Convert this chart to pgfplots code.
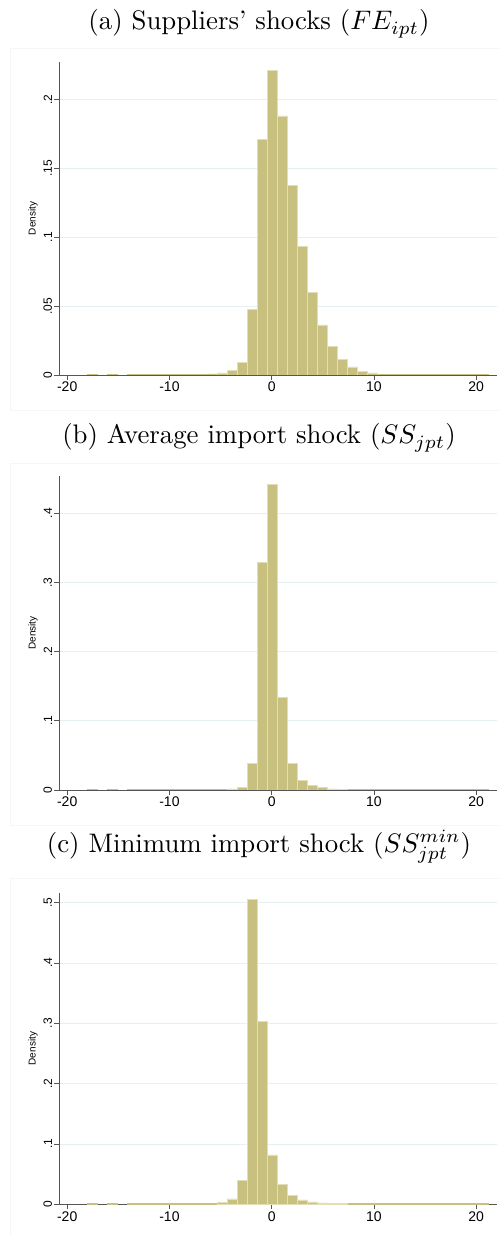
\documentclass[border=0pt]{standalone}
\usepackage{fontspec}
\usepackage{graphicx}
\usepackage{pgfplots}
\pgfplotsset{compat=1.18}
\newfontfamily\arial{Liberation Sans}
\definecolor{barfill}{RGB}{200,192,126}
\definecolor{baredge}{RGB}{226,222,182}
\definecolor{gridc}{RGB}{230,239,241}
\definecolor{axc}{RGB}{85,85,85}
\definecolor{framec}{RGB}{246,246,246}

\pgfplotsset{hist/.style={
  scale only axis, width=437.4pt,
  xmin=-20.77, xmax=22.0, ymin=0,
  axis x line*=bottom, axis y line*=left,
  axis line style={axc, line width=0.7pt},
  xtick={-20,-10,0,10,20}, xticklabels={-20,-10,0,10,20},
  tick align=outside, major tick length=5pt,
  tick style={axc, line width=0.6pt},
  ymajorgrids, grid style={gridc, line width=0.7pt},
  xticklabel style={font=\arial\fontsize{14}{14}\selectfont, inner sep=1pt, yshift=-1pt},
  yticklabel style={font=\arial\fontsize{12}{12}\selectfont, rotate=90, anchor=south, inner sep=2pt},
  ylabel={Density},
  every axis y label/.style={at={(axis description cs:-0.06,0.5)}, rotate=90, anchor=center, font=\arial\fontsize{10}{10}\selectfont},
  anchor=south west,
}}
\pgfplotsset{mainbar/.style={ybar, bar width=0.98, fill=barfill, draw=baredge, line width=0.7pt},
  tailbar/.style={ybar, bar width=0.98, fill=barfill, draw=barfill, line width=0.4pt}}
\newcommand{\ttl}[1]{\scalebox{2.68}{\fontsize{10}{12}\selectfont #1}}

\begin{document}
\begin{tikzpicture}
% faint graph-region frames
\draw[framec, line width=0.6pt] (10pt,826pt) rectangle (520pt,1188pt);
\draw[framec, line width=0.6pt] (10pt,411pt) rectangle (520pt,773pt);
\draw[framec, line width=0.6pt] (10pt,-3pt) rectangle (520pt,358pt);

% ---------- Panel (a)
\node[anchor=base, inner sep=0pt] at (259pt,1206pt) {\ttl{(a) Suppliers' shocks ($FE_{ipt}$)}};
\begin{axis}[hist, at={(59.3pt,861pt)}, height=313pt, ymax=0.2271,
  ytick={0,0.05,0.1,0.15,0.2}, yticklabels={0,.05,.1,.15,.2}]
\addplot[tailbar] coordinates {
(-17.58,0.0005) (-15.62,0.0005) (-13.66,0.0005) (-12.68,0.0005) (-11.70,0.0005)
(-10.72,0.0005) (-9.74,0.0005) (-8.76,0.0005) (-7.78,0.0005) (-6.80,0.0005) (-5.82,0.0008)
(10.84,0.0006) (11.82,0.0005) (12.80,0.0005) (13.78,0.0005) (14.76,0.0005) (15.74,0.0005)
(16.72,0.0005) (17.70,0.0005) (18.68,0.0005) (19.66,0.0005) (20.64,0.0005)};
\addplot[mainbar] coordinates {
(-4.84,0.0015) (-3.86,0.0031) (-2.88,0.0089) (-1.90,0.0474) (-0.92,0.171)
(0.06,0.221) (1.04,0.188) (2.02,0.1376) (3.00,0.0934) (3.98,0.060)
(4.96,0.0363) (5.94,0.021) (6.92,0.0114) (7.90,0.0058) (8.88,0.0027) (9.86,0.0015)};
\end{axis}

% ---------- Panel (b)
\node[anchor=base, inner sep=0pt] at (259pt,792pt) {\ttl{(b) Average import shock ($SS_{jpt}$)}};
\begin{axis}[hist, at={(59.3pt,446pt)}, height=314pt, ymax=0.4538,
  ytick={0,0.1,0.2,0.3,0.4}, yticklabels={0,.1,.2,.3,.4}]
\addplot[tailbar] coordinates {
(-17.58,0.0009) (-15.62,0.0009) (-13.66,0.0009) (-12.68,0.0009) (-11.70,0.0009)
(-10.72,0.0009) (-9.74,0.0009) (-8.76,0.0009) (-7.78,0.0009) (-6.80,0.0009) (-5.82,0.0009)
(-4.84,0.0009) (7.90,0.0009) (8.88,0.0009) (9.86,0.0009)
(10.84,0.0009) (11.82,0.0009) (12.80,0.0009) (13.78,0.0009) (14.76,0.0009) (15.74,0.0009)
(16.72,0.0009) (17.70,0.0009) (18.68,0.0009) (19.66,0.0009) (20.64,0.0009)};
\addplot[mainbar] coordinates {
(-3.86,0.0015) (-2.88,0.0034) (-1.90,0.0386) (-0.92,0.329) (0.06,0.442)
(1.04,0.134) (2.02,0.038) (3.00,0.014) (3.98,0.0063) (4.96,0.0034) (5.94,0.0015) (6.92,0.001)};
\end{axis}

% ---------- Panel (c)
\node[anchor=base, inner sep=0pt] at (259pt,383.7pt) {\ttl{(c) Minimum import shock ($SS^{min}_{jpt}$)}};
\begin{axis}[hist, at={(59.3pt,31.7pt)}, height=311.3pt, ymax=0.516,
  ytick={0,0.1,0.2,0.3,0.4,0.5}, yticklabels={0,.1,.2,.3,.4,.5}]
\addplot[tailbar] coordinates {
(-17.58,0.001) (-15.62,0.001) (-13.66,0.001) (-12.68,0.001) (-11.70,0.001)
(-10.72,0.001) (-9.74,0.001) (-8.76,0.001) (-7.78,0.001) (-6.80,0.001) (-5.82,0.001)
(7.90,0.001) (8.88,0.001) (9.86,0.001)
(10.84,0.001) (11.82,0.001) (12.80,0.001) (13.78,0.001) (14.76,0.001) (15.74,0.001)
(16.72,0.001) (17.70,0.001) (18.68,0.001) (19.66,0.001) (20.64,0.001)};
\addplot[mainbar] coordinates {
(-4.84,0.0028) (-3.86,0.0088) (-2.88,0.039) (-1.90,0.506) (-0.92,0.303)
(0.06,0.0818) (1.04,0.0326) (2.02,0.0144) (3.00,0.0072) (3.98,0.0039)
(4.96,0.0022) (5.94,0.0012) (6.92,0.001)};
\end{axis}

\pgfresetboundingbox
\path[use as bounding box] (0pt,0pt) rectangle (499pt,1236pt);
\end{tikzpicture}
\end{document}
